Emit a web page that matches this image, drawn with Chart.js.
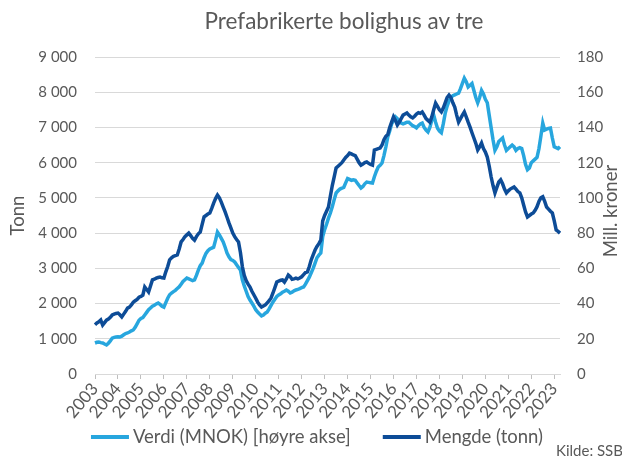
<!DOCTYPE html>
<html>
<head>
<meta charset="utf-8">
<script src="https://cdn.jsdelivr.net/npm/chart.js@4.4.0/dist/chart.umd.min.js"></script>
<style>
  html, body { margin: 0; padding: 0; background: #fff; }
  #wrap { width: 622px; height: 458px; }
</style>
</head>
<body>
<div id="wrap"><canvas id="myChart" width="622" height="458"></canvas></div>
<script>
    "use strict";

    //* Monthly series, Jan 2003 - Apr 2023
    var firstYear = 2003;
    var lastYear = 2023;

    // Mengde (tonn), left axis
    var mengde = [
        1400, 1450, 1480, 1530, 1390, 1460, 1530, 1560, 1610, 1675, 1700, 1720,
        1730, 1680, 1620, 1700, 1780, 1870, 1900, 1960, 2040, 2080, 2120, 2180,
        2200, 2240, 2470, 2400, 2330, 2500, 2670, 2690, 2720, 2740, 2750, 2730,
        2725, 2900, 3050, 3240, 3300, 3340, 3360, 3380, 3550, 3750, 3820, 3900,
        3950, 4000, 3930, 3850, 3800, 3900, 3980, 4030, 4250, 4460, 4500, 4540,
        4570, 4700, 4850, 4980, 5080, 5000, 4880, 4740, 4600, 4450, 4290, 4150,
        4000, 3900, 3820, 3750, 3450, 3050, 2800, 2650, 2550, 2470, 2350, 2250,
        2150, 2040, 1960, 1900, 1930, 1960, 2020, 2080, 2160, 2300, 2450, 2610,
        2640, 2660, 2670, 2610, 2700, 2810, 2760, 2690, 2700, 2720, 2700, 2725,
        2760, 2820, 2880, 2900, 3050, 3240, 3380, 3520, 3620, 3700, 3800, 4350,
        4500, 4620, 4740, 5050, 5350, 5600, 5850, 5900, 5950, 6000, 6075, 6150,
        6200, 6270, 6250, 6220, 6200, 6100, 6000, 5930, 5960, 6000, 6020, 5980,
        5950, 5930, 6360, 6380, 6400, 6415, 6500, 6650, 6750, 6800, 7000, 7150,
        7300, 7200, 7070, 7150, 7250, 7350, 7380, 7410, 7350, 7300, 7270, 7320,
        7380, 7420, 7400, 7440, 7350, 7250, 7200, 7150, 7300, 7500, 7690, 7600,
        7500, 7440, 7550, 7700, 7850, 7920, 7850, 7700, 7580, 7350, 7150, 7250,
        7350, 7440, 7300, 7150, 7010, 6850, 6700, 6550, 6360, 6450, 6560, 6400,
        6300, 6160, 5900, 5600, 5350, 5140, 5300, 5450, 5510, 5400, 5250, 5140,
        5200, 5250, 5280, 5310, 5250, 5180, 5140, 5000, 4800, 4600, 4460, 4500,
        4540, 4570, 4650, 4750, 4900, 5000, 5030, 4900, 4740, 4680, 4620, 4570,
        4350, 4090, 4050, 4000
    ];

    // Verdi (MNOK), right axis
    var verdi = [
        17.6, 18.0, 18.2, 17.8, 17.6, 17.0, 16.5, 17.5, 18.8, 20.4, 20.8, 21.0,
        21.2, 21.0, 21.5, 22.3, 23.0, 23.3, 23.8, 24.5, 25.0, 26.5, 28.5, 30.5,
        31.5, 32.0, 33.5, 35.0, 36.5, 37.5, 38.5, 39.0, 39.8, 40.3, 39.5, 38.5,
        38.0, 40.5, 43.0, 45.0, 46.0, 46.8, 47.5, 48.5, 49.5, 51.0, 52.5, 53.5,
        54.5, 54.0, 53.5, 53.0, 53.4, 56.0, 59.0, 61.5, 63.0, 66.0, 68.5, 70.0,
        71.0, 71.5, 72.0, 76.0, 80.6, 79.0, 77.0, 75.0, 72.0, 68.7, 66.5, 65.0,
        64.5, 63.6, 62.0, 60.5, 59.0, 53.5, 50.0, 47.0, 44.0, 42.0, 40.3, 38.5,
        36.5, 35.2, 34.0, 33.0, 33.5, 34.5, 35.2, 37.0, 39.0, 40.9, 42.5, 44.0,
        44.9, 45.5, 46.5, 47.0, 47.7, 47.0, 46.0, 46.5, 47.2, 47.7, 48.0, 48.5,
        49.0, 49.4, 51.0, 53.0, 55.0, 57.5, 60.0, 63.0, 66.0, 67.5, 68.7, 78.0,
        82.0, 85.0, 88.5, 91.4, 95.0, 99.0, 102.8, 104.0, 105.0, 105.5, 106.0, 108.5,
        111.0, 110.5, 110.0, 110.3, 110.0, 108.5, 107.0, 105.6, 106.5, 108.0, 109.0, 108.8,
        108.6, 108.4, 112.0, 115.0, 117.5, 118.5, 119.8, 124.0, 129.0, 134.6, 138.0, 142.0,
        144.0, 146.0, 145.0, 143.5, 142.5, 142.0, 142.5, 143.0, 143.0, 142.0, 141.0, 140.5,
        139.7, 141.0, 142.0, 142.5, 140.0, 138.5, 137.4, 140.0, 144.0, 147.0, 143.0, 139.5,
        138.0, 137.0, 142.0, 148.0, 152.0, 155.0, 157.0, 158.0, 158.5, 159.0, 159.5, 162.0,
        165.0, 168.0, 166.0, 163.0, 164.0, 165.0, 161.0, 157.0, 154.0, 157.0, 161.0, 159.0,
        156.0, 154.0, 147.0, 140.0, 133.0, 127.0, 129.0, 132.0, 133.0, 134.0, 130.0, 127.0,
        128.0, 129.0, 130.0, 129.0, 127.0, 128.0, 128.5, 128.0, 124.0, 119.0, 116.0, 117.0,
        120.0, 121.0, 122.0, 123.0, 128.0, 135.0, 142.5, 138.5, 139.0, 139.5, 139.7, 134.0,
        129.0, 128.5, 128.0, 129.0
    ];

    // one category per month, "2003-01" ...
    var months = [];
    for (var y = firstYear; y <= lastYear; y++) {
        for (var m = 1; m <= 12 && months.length < mengde.length; m++) {
            months.push(y + '-' + (m < 10 ? '0' + m : m));
        }
    }

    var textColor = '#595959';
    var gridColor = '#d9d9d9';
    var font = 'Lato';

    function spaced(v) {
        return String(v).replace(/\B(?=(\d{3})+(?!\d))/g, ' ');
    }

    /*--------------- Title, right axis title, legend and source ---------------*/
    var extraText = {
        id: 'extraText',
        afterDraw: function(chart) {
            var ctx = chart.ctx;
            ctx.save();
            ctx.fillStyle = textColor;
            ctx.textBaseline = 'middle';

            ctx.font = '22.5px ' + font;
            ctx.textAlign = 'center';
            ctx.fillText('Prefabrikerte bolighus av tre', 344, 22);

            ctx.font = '18.5px ' + font;
            ctx.save();
            ctx.translate(611, 211);
            ctx.rotate(-Math.PI / 2);
            ctx.fillText('Mill. kroner', 0, 0);
            ctx.restore();

            // legend: line sample + label for each dataset, centred row
            var sets = chart.data.datasets;
            var boxW = 38, gap = 4, itemGap = 32, legendY = 437;
            ctx.font = '18.5px ' + font;
            var total = 0;
            sets.forEach(function(ds, i) {
                total += boxW + gap + ctx.measureText(ds.label).width + (i > 0 ? itemGap : 0);
            });
            var lx = 317 - total / 2;
            ctx.textAlign = 'left';
            sets.forEach(function(ds) {
                ctx.fillStyle = ds.borderColor;
                ctx.fillRect(lx, legendY - 2, boxW, 4);
                lx += boxW + gap;
                ctx.fillStyle = textColor;
                ctx.fillText(ds.label, lx, legendY);
                lx += ctx.measureText(ds.label).width + itemGap;
            });

            ctx.font = '15px ' + font;
            ctx.fillText('Kilde: SSB', 556, 451);
            ctx.restore();
        }
    };

    var ctxChart = document.getElementById('myChart').getContext('2d');
    var myChart = new Chart(ctxChart, {
        type: 'line',
        data: {
            labels: months,
            datasets: [{
                label: 'Verdi (MNOK) [høyre akse]',
                data: verdi,
                yAxisID: 'y1',
                borderColor: '#27a6de',
                backgroundColor: '#27a6de',
                borderWidth: 3.5,
                pointRadius: 0,
                tension: 0,
                order: 1
            }, {
                label: 'Mengde (tonn)',
                data: mengde,
                yAxisID: 'y',
                borderColor: '#0d4c97',
                backgroundColor: '#0d4c97',
                borderWidth: 3.5,
                pointRadius: 0,
                tension: 0,
                order: 0
            }]
        },
        options: {
            responsive: false,
            animation: false,
            devicePixelRatio: 1,
            layout: { padding: { top: 57, left: 0, right: 0, bottom: 0 } },
            plugins: {
                title: { display: false },
                tooltip: { enabled: false },
                legend: { display: false }
            },
            scales: {
                x: {
                    type: 'category',
                    offset: false,
                    afterFit: function(scale) { scale.height = 84; },
                    grid: {
                        drawOnChartArea: false,
                        drawTicks: true,
                        tickLength: 5,
                        color: '#bfbfbf'
                    },
                    border: { display: true, color: gridColor },
                    ticks: {
                        autoSkip: false,
                        minRotation: 50,
                        maxRotation: 50,
                        padding: 0,
                        color: textColor,
                        font: { family: font, size: 17 },
                        callback: function(val, i) {
                            return i % 12 === 0 ? months[i].slice(0, 4) : null;
                        }
                    }
                },
                y: {
                    position: 'left',
                    min: 0,
                    max: 9000,
                    afterFit: function(scale) { scale.width = 95; },
                    grid: { color: gridColor, drawTicks: false },
                    border: { display: false },
                    ticks: {
                        stepSize: 1000,
                        padding: 18,
                        color: textColor,
                        font: { family: font, size: 15 },
                        callback: function(v) { return spaced(v); }
                    },
                    title: {
                        display: true,
                        text: 'Tonn',
                        color: textColor,
                        font: { family: font, size: 18.5 },
                        padding: { top: 7, bottom: 0 }
                    }
                },
                y1: {
                    position: 'right',
                    min: 0,
                    max: 180,
                    afterFit: function(scale) { scale.width = 62; },
                    grid: { drawOnChartArea: false, drawTicks: false },
                    border: { display: false },
                    ticks: {
                        stepSize: 20,
                        padding: 17,
                        color: textColor,
                        font: { family: font, size: 15 }
                    }
                }
            }
        },
        plugins: [extraText]
    });
</script>
</body>
</html>
